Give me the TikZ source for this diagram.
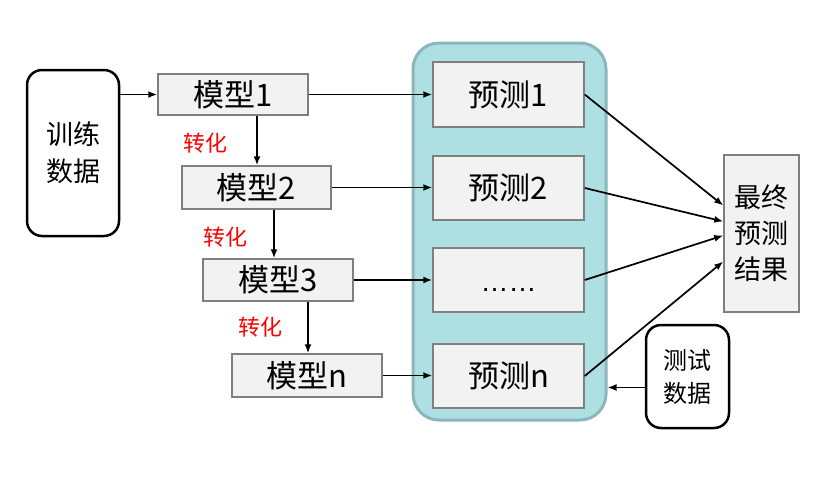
\documentclass[tikz,border=0pt]{standalone}
\usepackage{fontspec}
\setmainfont{Noto Sans CJK SC}
\newfontfamily\dotsfont{Liberation Sans}
\usetikzlibrary{arrows.meta,calc}
\definecolor{boxfill}{HTML}{F2F2F2}
\definecolor{boxline}{HTML}{7F7F7F}
\definecolor{contfill}{HTML}{AEDFE3}
\definecolor{contline}{HTML}{8BB7BB}
\tikzset{
  graybox/.style={draw=boxline, fill=boxfill, line width=1.5pt, inner sep=0pt, font=\fontsize{31}{33}\selectfont},
  roundbox/.style={draw=black, fill=white, line width=2.5pt, rounded corners=15pt, inner sep=0pt, align=center},
  conv/.style={text=red, font=\fontsize{22}{24}\selectfont},
  arr/.style={line width=1.7pt, -{Latex[length=9pt,width=7pt]}},
}
\begin{document}
\begin{tikzpicture}[x=1pt,y=-1pt]
\useasboundingbox (0,0) rectangle (823,485);
\fill[white] (0,0) rectangle (823,485);
% container
\node[draw=contline, fill=contfill, line width=3pt, rounded corners=26pt, minimum width=193pt, minimum height=377pt, inner sep=0pt] (cont) at (509.5,231.5) {};
% training data
\node[roundbox, minimum width=92pt, minimum height=166pt, font=\fontsize{27}{37}\selectfont] (train) at (73,153) {训练\\数据};
% models
\node[graybox, minimum width=150pt, minimum height=41pt] (m1) at (233,94.5) {模型1};
\node[graybox, minimum width=149pt, minimum height=43pt] (m2) at (256.5,187.5) {模型2};
\node[graybox, minimum width=150pt, minimum height=42pt] (m3) at (278,280) {模型3};
\node[graybox, minimum width=150pt, minimum height=43pt] (mn) at (307,375.5) {模型n};
% conversion labels
\node[conv] (c1) at (205,143) {转化};
\node[conv] (c2) at (225,237) {转化};
\node[conv] (c3) at (260,327) {转化};
% predictions
\node[graybox, minimum width=151pt, minimum height=65pt] (p1) at (508.5,94.5) {预测1};
\node[graybox, minimum width=151pt, minimum height=64pt] (p2) at (508.5,188) {预测2};
\node[graybox, minimum width=151pt, minimum height=64pt] (p3) at (508.5,280) {};
\node[font=\dotsfont\fontsize{28}{30}\selectfont, anchor=base, inner sep=0pt] (p3t) at (508.5,291) {……};
\node[graybox, minimum width=151pt, minimum height=64pt] (pn) at (508.5,376) {预测n};
% final
\node[graybox, minimum width=75pt, minimum height=157pt, align=center, font=\fontsize{27}{36}\selectfont] (fin) at (761.5,233.5) {最终\\预测\\结果};
% test data
\node[roundbox, minimum width=83pt, minimum height=103pt, font=\fontsize{24}{33}\selectfont] (test) at (687.5,376.5) {测试\\数据};
% arrows
\draw[arr] (train.east |- m1.west) -- (m1.west);
\draw[arr] ([xshift=24pt]m1.south) -- ([xshift=24pt]m1.south |- m2.north);
\draw[arr] ([xshift=17.5pt]m2.south) -- ([xshift=17.5pt]m2.south |- m3.north);
\draw[arr] ([xshift=30pt]m3.south) -- ([xshift=30pt]m3.south |- mn.north);
\draw[arr] (m1.east) -- (m1.east -| p1.west);
\draw[arr] (m2.east) -- (m2.east -| p2.west);
\draw[arr] (m3.east) -- (m3.east -| p3.west);
\draw[arr] (mn.east) -- (mn.east -| pn.west);
\draw[arr] (p1.east) -- ([yshift=28pt]fin.west);
\draw[arr] (p2.east) -- ([yshift=12pt]fin.west);
\draw[arr] (p3.east) -- ([yshift=-2pt]fin.west);
\draw[arr] (pn.east) -- ([yshift=-28pt]fin.west);
\draw[arr] ([yshift=-11pt]test.west) -- ([yshift=-11pt]test.west -| cont.east);
\end{tikzpicture}
\end{document}
